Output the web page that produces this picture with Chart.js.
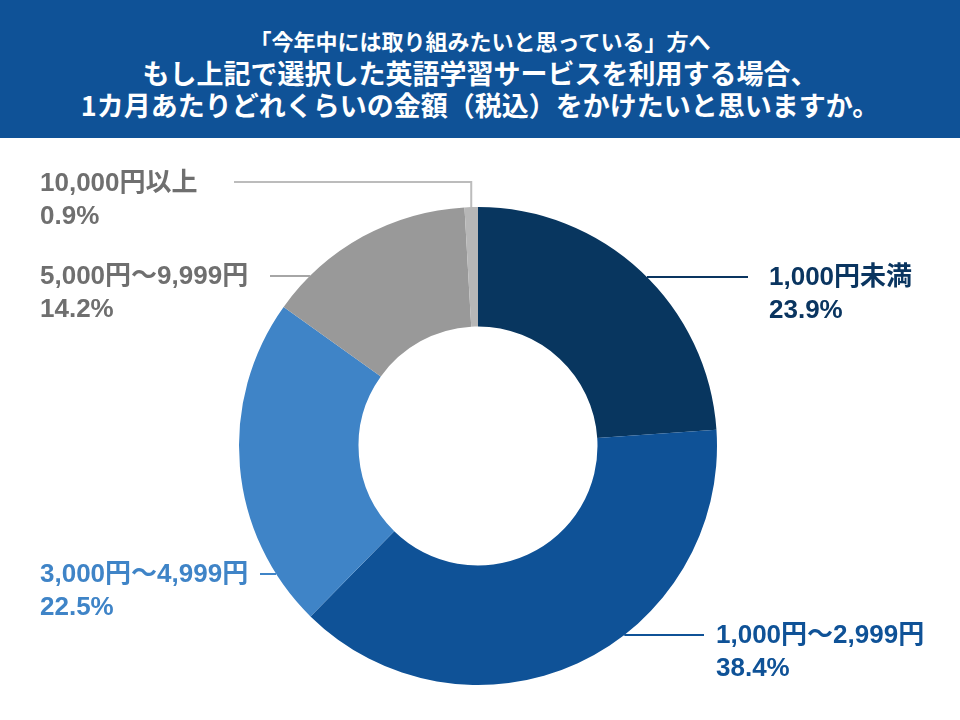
<!DOCTYPE html>
<html>
<head>
<meta charset="utf-8">
<script src="https://cdn.jsdelivr.net/npm/chart.js@4"></script>
<style>
  body { margin: 0; background: #fff; width: 960px; height: 720px; overflow: hidden; }
  #header { position: relative; width: 960px; height: 138px; background: #0f5297; color: #fff;
            font-family: "Noto Sans CJK JP", sans-serif; font-weight: bold; text-align: center; }
  #header div { position: absolute; left: 0; width: 960px; white-space: nowrap; }
  #t1 { top: 28px; line-height: 24px; font-size: 22px; }
  #t2 { top: 57px; line-height: 32px; font-size: 27px; }
  #t3 { top: 89px; line-height: 32px; font-size: 27px; }
  #wrap { position: relative; width: 960px; height: 582px; }
</style>
</head>
<body>
<div id="header">
  <div id="t1">「今年中には取り組みたいと思っている」方へ</div>
  <div id="t2">もし上記で選択した英語学習サービスを利用する場合、</div>
  <div id="t3">1カ月あたりどれくらいの金額（税込）をかけたいと思いますか。</div>
</div>
<div id="wrap"><canvas id="chart" width="960" height="582"></canvas></div>
<script>
const categories = ['1,000円未満', '1,000円～2,999円', '3,000円～4,999円', '5,000円～9,999円', '10,000円以上'];
const shares = [23.9, 38.4, 22.5, 14.2, 0.9];
const sliceColors = ['#08365f', '#0f5297', '#3f84c7', '#999999', '#b7b7b7'];
const labelColors = ['#0a3560', '#0f5297', '#3f84c7', '#6f6f6f', '#6f6f6f'];
const lineColors = ['#0a3560', '#0f5297', '#3f84c7', '#a6a6a6', '#bcbcbc'];

// label placement (canvas coords, header is 138px above)
const labelPos = [
    { x: 769, y: 140, side: 'right', lineEnd: 748 },
    { x: 716, y: 498, side: 'right', lineEnd: 704 },
    { x: 40, y: 437, side: 'left', lineEnd: 260 },
    { x: 40, y: 139, side: 'left', lineEnd: 270 },
    { x: 40, y: 46, side: 'top', lineEnd: 234 }
];

const calloutPlugin = {
    id: 'callouts',
    afterDatasetsDraw(chart) {
        const ctx = chart.ctx;
        const meta = chart.getDatasetMeta(0);
        ctx.save();
        meta.data.forEach((arc, i) => {
            const p = labelPos[i];
            const cx = arc.x, cy = arc.y, r = arc.outerRadius;
            const lineY = p.y - 1;
            ctx.strokeStyle = lineColors[i];
            ctx.lineWidth = 2;
            ctx.beginPath();
            if (p.side === 'top') {
                const mid = (arc.startAngle + arc.endAngle) / 2;
                const ax = cx + Math.cos(mid) * r;
                const ay = cy + Math.sin(mid) * r;
                ctx.moveTo(p.lineEnd, lineY - 1);
                ctx.lineTo(ax, lineY - 1);
                ctx.lineTo(ax, ay);
            } else {
                const dy = lineY - cy;
                const dx = Math.sqrt(Math.max(r * r - dy * dy, 0));
                const ex = p.side === 'right' ? cx + dx : cx - dx;
                ctx.moveTo(ex, lineY);
                ctx.lineTo(p.lineEnd, lineY);
            }
            ctx.stroke();

            ctx.fillStyle = labelColors[i];
            ctx.font = 'bold 26px "Liberation Sans", "Noto Sans CJK JP", sans-serif';
            ctx.textAlign = 'left';
            ctx.textBaseline = 'middle';
            ctx.fillText(categories[i], p.x, p.y);
            ctx.fillText(shares[i].toFixed(1) + '%', p.x, p.y + 33);
        });
        ctx.restore();
    }
};

new Chart(document.getElementById('chart'), {
    type: 'doughnut',
    data: {
        labels: categories,
        datasets: [{
            data: shares,
            backgroundColor: sliceColors,
            borderWidth: 0
        }]
    },
    options: {
        responsive: false,
        animation: false,
        cutout: '50%',
        rotation: 0,
        layout: { padding: { top: 69, bottom: 35, left: 239, right: 243 } },
        plugins: {
            legend: { display: false },
            tooltip: { enabled: false },
            title: { display: false }
        }
    },
    plugins: [calloutPlugin]
});
</script>
</body>
</html>
